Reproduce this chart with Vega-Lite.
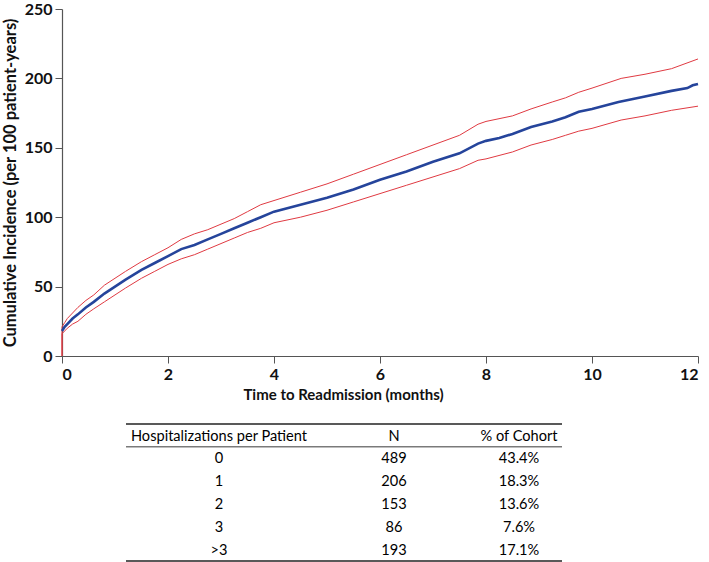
{
  "$schema": "https://vega.github.io/schema/vega-lite/v6.json",
  "padding": {"left": 2, "top": 1, "right": 0, "bottom": 0},
  "background": "white",
  "config": {
    "view": {"stroke": null},
    "font": "Lato",
    "axis": {
      "grid": false,
      "domainColor": "#555",
      "domainWidth": 1.2,
      "tickColor": "#555",
      "tickSize": 7,
      "labelFont": "Lato",
      "labelFontSize": 16,
      "labelFontWeight": "bold",
      "labelColor": "#111",
      "labelPadding": 3,
      "titleFont": "Lato",
      "titleFontSize": 15,
      "titleFontWeight": "bold",
      "titleColor": "#111"
    }
  },
  "datasets": {
    "km": [
      {"t": 0, "v": 0, "s": "upper"}, {"t": 0, "v": 21, "s": "upper"}, {"t": 0.05, "v": 24, "s": "upper"}, {"t": 0.1, "v": 27, "s": "upper"},
      {"t": 0.2, "v": 31, "s": "upper"}, {"t": 0.3, "v": 35, "s": "upper"}, {"t": 0.45, "v": 40, "s": "upper"}, {"t": 0.6, "v": 44, "s": "upper"},
      {"t": 0.8, "v": 51, "s": "upper"}, {"t": 1, "v": 56, "s": "upper"}, {"t": 1.2, "v": 61, "s": "upper"}, {"t": 1.5, "v": 68, "s": "upper"},
      {"t": 1.75, "v": 73, "s": "upper"}, {"t": 2, "v": 78, "s": "upper"}, {"t": 2.25, "v": 84, "s": "upper"}, {"t": 2.5, "v": 88, "s": "upper"},
      {"t": 2.75, "v": 91, "s": "upper"}, {"t": 3, "v": 95, "s": "upper"}, {"t": 3.25, "v": 99, "s": "upper"}, {"t": 3.5, "v": 104, "s": "upper"},
      {"t": 3.75, "v": 109, "s": "upper"}, {"t": 4, "v": 112, "s": "upper"}, {"t": 4.5, "v": 118, "s": "upper"}, {"t": 5, "v": 124, "s": "upper"},
      {"t": 5.5, "v": 131, "s": "upper"}, {"t": 6, "v": 138, "s": "upper"}, {"t": 6.5, "v": 145, "s": "upper"}, {"t": 7, "v": 152, "s": "upper"},
      {"t": 7.5, "v": 159, "s": "upper"}, {"t": 7.85, "v": 167, "s": "upper"}, {"t": 8, "v": 169, "s": "upper"}, {"t": 8.5, "v": 173, "s": "upper"},
      {"t": 8.85, "v": 178, "s": "upper"}, {"t": 9.25, "v": 183, "s": "upper"}, {"t": 9.5, "v": 186, "s": "upper"}, {"t": 9.75, "v": 190, "s": "upper"},
      {"t": 10, "v": 193, "s": "upper"}, {"t": 10.55, "v": 200, "s": "upper"}, {"t": 11, "v": 203, "s": "upper"}, {"t": 11.5, "v": 207, "s": "upper"},
      {"t": 12, "v": 214, "s": "upper"},

      {"t": 0, "v": 18, "s": "estimate"}, {"t": 0.05, "v": 21, "s": "estimate"}, {"t": 0.1, "v": 23, "s": "estimate"}, {"t": 0.2, "v": 27, "s": "estimate"},
      {"t": 0.3, "v": 30, "s": "estimate"}, {"t": 0.45, "v": 35, "s": "estimate"}, {"t": 0.6, "v": 39, "s": "estimate"}, {"t": 0.8, "v": 45, "s": "estimate"},
      {"t": 1, "v": 50, "s": "estimate"}, {"t": 1.2, "v": 55, "s": "estimate"}, {"t": 1.5, "v": 62, "s": "estimate"}, {"t": 1.75, "v": 67, "s": "estimate"},
      {"t": 2, "v": 72, "s": "estimate"}, {"t": 2.25, "v": 77, "s": "estimate"}, {"t": 2.5, "v": 80, "s": "estimate"}, {"t": 2.75, "v": 84, "s": "estimate"},
      {"t": 3, "v": 88, "s": "estimate"}, {"t": 3.25, "v": 92, "s": "estimate"}, {"t": 3.5, "v": 96, "s": "estimate"}, {"t": 3.75, "v": 100, "s": "estimate"},
      {"t": 4, "v": 104, "s": "estimate"}, {"t": 4.5, "v": 109, "s": "estimate"}, {"t": 5, "v": 114, "s": "estimate"}, {"t": 5.5, "v": 120, "s": "estimate"},
      {"t": 6, "v": 127, "s": "estimate"}, {"t": 6.5, "v": 133, "s": "estimate"}, {"t": 7, "v": 140, "s": "estimate"}, {"t": 7.5, "v": 146, "s": "estimate"},
      {"t": 7.85, "v": 153, "s": "estimate"}, {"t": 8, "v": 155, "s": "estimate"}, {"t": 8.25, "v": 157, "s": "estimate"}, {"t": 8.5, "v": 160, "s": "estimate"},
      {"t": 8.85, "v": 165, "s": "estimate"}, {"t": 9.25, "v": 169, "s": "estimate"}, {"t": 9.5, "v": 172, "s": "estimate"}, {"t": 9.75, "v": 176, "s": "estimate"},
      {"t": 10, "v": 178, "s": "estimate"}, {"t": 10.5, "v": 183, "s": "estimate"}, {"t": 11, "v": 187, "s": "estimate"}, {"t": 11.5, "v": 191, "s": "estimate"},
      {"t": 11.8, "v": 193, "s": "estimate"}, {"t": 11.9, "v": 195, "s": "estimate"}, {"t": 12, "v": 196, "s": "estimate"},

      {"t": 0, "v": 0, "s": "lower"}, {"t": 0, "v": 16, "s": "lower"}, {"t": 0.05, "v": 18, "s": "lower"}, {"t": 0.1, "v": 20, "s": "lower"},
      {"t": 0.2, "v": 23, "s": "lower"}, {"t": 0.3, "v": 25, "s": "lower"}, {"t": 0.45, "v": 30, "s": "lower"}, {"t": 0.6, "v": 34, "s": "lower"},
      {"t": 0.8, "v": 39, "s": "lower"}, {"t": 1, "v": 44, "s": "lower"}, {"t": 1.2, "v": 49, "s": "lower"}, {"t": 1.5, "v": 56, "s": "lower"},
      {"t": 1.75, "v": 61, "s": "lower"}, {"t": 2, "v": 66, "s": "lower"}, {"t": 2.25, "v": 70, "s": "lower"}, {"t": 2.5, "v": 73, "s": "lower"},
      {"t": 2.75, "v": 77, "s": "lower"}, {"t": 3, "v": 81, "s": "lower"}, {"t": 3.25, "v": 85, "s": "lower"}, {"t": 3.5, "v": 89, "s": "lower"},
      {"t": 3.75, "v": 92, "s": "lower"}, {"t": 4, "v": 96, "s": "lower"}, {"t": 4.5, "v": 100, "s": "lower"}, {"t": 5, "v": 105, "s": "lower"},
      {"t": 5.5, "v": 111, "s": "lower"}, {"t": 6, "v": 117, "s": "lower"}, {"t": 6.5, "v": 123, "s": "lower"}, {"t": 7, "v": 129, "s": "lower"},
      {"t": 7.5, "v": 135, "s": "lower"}, {"t": 7.85, "v": 141, "s": "lower"}, {"t": 8, "v": 142, "s": "lower"}, {"t": 8.5, "v": 147, "s": "lower"},
      {"t": 8.85, "v": 152, "s": "lower"}, {"t": 9.25, "v": 156, "s": "lower"}, {"t": 9.5, "v": 159, "s": "lower"}, {"t": 9.75, "v": 162, "s": "lower"},
      {"t": 10, "v": 164, "s": "lower"}, {"t": 10.55, "v": 170, "s": "lower"}, {"t": 11, "v": 173, "s": "lower"}, {"t": 11.5, "v": 177, "s": "lower"},
      {"t": 12, "v": 180, "s": "lower"}
    ],
    "table": [
      {"row": "header", "hosp": "Hospitalizations per Patient", "n": "N", "pct": "% of Cohort"},
      {"row": "0", "hosp": "0", "n": "489", "pct": "43.4%"},
      {"row": "1", "hosp": "1", "n": "206", "pct": "18.3%"},
      {"row": "2", "hosp": "2", "n": "153", "pct": "13.6%"},
      {"row": "3", "hosp": "3", "n": "86", "pct": "7.6%"},
      {"row": ">3", "hosp": ">3", "n": "193", "pct": "17.1%"}
    ]
  },
  "vconcat": [
    {
      "width": 636,
      "height": 347,
      "data": {"name": "km"},
      "encoding": {
        "x": {
          "field": "t", "type": "quantitative",
          "scale": {"domain": [0, 12], "nice": false},
          "axis": {"values": [0, 2, 4, 6, 8, 10, 12], "title": "Time to Readmission (months)", "titleX": 281, "titlePadding": 5}
        },
        "y": {
          "field": "v", "type": "quantitative",
          "scale": {"domain": [0, 250], "nice": false},
          "axis": {"values": [0, 50, 100, 150, 200, 250], "title": "Cumulative Incidence (per 100 patient-years)", "titleFontSize": 16.5, "titlePadding": 6}
        }
      },
      "layer": [
        {
          "transform": [{"filter": "datum.s !== 'estimate'"}],
          "mark": {"type": "line", "color": "#e03a42", "strokeWidth": 1},
          "encoding": {"detail": {"field": "s"}}
        },
        {
          "transform": [{"filter": "datum.s === 'estimate'"}],
          "mark": {"type": "line", "color": "#25449b", "strokeWidth": 2.6}
        }
      ]
    },
    {
      "spacing": 0,
      "bounds": "flush",
      "hconcat": [
        {
          "width": 64,
          "height": 137,
          "data": {"values": []},
          "mark": "point",
          "encoding": {}
        },
        {
          "width": 186,
          "height": 137,
          "data": {"name": "table"},
          "encoding": {
            "y": {"field": "row", "type": "nominal", "scale": {"type": "band", "domain": ["header", "0", "1", "2", "3", ">3"], "paddingInner": 0, "paddingOuter": 0}, "axis": null}
          },
          "layer": [
            {"mark": {"type": "text", "fontSize": 14.6, "color": "#000", "align": "center", "baseline": "middle"}, "encoding": {"text": {"field": "hosp"}, "y": {"field": "row", "type": "nominal", "bandPosition": 0.55}}},
            {"transform": [{"filter": "datum.row === 'header'"}], "mark": {"type": "rule", "color": "#222", "strokeWidth": 1.3}, "encoding": {"y": {"field": "row", "type": "nominal", "bandPosition": 0}}},
            {"transform": [{"filter": "datum.row === 'header'"}], "mark": {"type": "rule", "color": "#222", "strokeWidth": 0.9}, "encoding": {"y": {"field": "row", "type": "nominal", "bandPosition": 1}}},
            {"transform": [{"filter": "datum.row === '>3'"}], "mark": {"type": "rule", "color": "#222", "strokeWidth": 1.3}, "encoding": {"y": {"field": "row", "type": "nominal", "bandPosition": 1}}}
          ]
        },
        {
          "width": 164,
          "height": 137,
          "data": {"name": "table"},
          "encoding": {
            "y": {"field": "row", "type": "nominal", "scale": {"type": "band", "domain": ["header", "0", "1", "2", "3", ">3"], "paddingInner": 0, "paddingOuter": 0}, "axis": null}
          },
          "layer": [
            {"mark": {"type": "text", "fontSize": 14.6, "color": "#000", "align": "center", "baseline": "middle"}, "encoding": {"text": {"field": "n"}, "y": {"field": "row", "type": "nominal", "bandPosition": 0.55}}},
            {"transform": [{"filter": "datum.row === 'header'"}], "mark": {"type": "rule", "color": "#222", "strokeWidth": 1.3}, "encoding": {"y": {"field": "row", "type": "nominal", "bandPosition": 0}}},
            {"transform": [{"filter": "datum.row === 'header'"}], "mark": {"type": "rule", "color": "#222", "strokeWidth": 0.9}, "encoding": {"y": {"field": "row", "type": "nominal", "bandPosition": 1}}},
            {"transform": [{"filter": "datum.row === '>3'"}], "mark": {"type": "rule", "color": "#222", "strokeWidth": 1.3}, "encoding": {"y": {"field": "row", "type": "nominal", "bandPosition": 1}}}
          ]
        },
        {
          "width": 86,
          "height": 137,
          "data": {"name": "table"},
          "encoding": {
            "y": {"field": "row", "type": "nominal", "scale": {"type": "band", "domain": ["header", "0", "1", "2", "3", ">3"], "paddingInner": 0, "paddingOuter": 0}, "axis": null}
          },
          "layer": [
            {"mark": {"type": "text", "fontSize": 14.6, "color": "#000", "align": "center", "baseline": "middle"}, "encoding": {"text": {"field": "pct"}, "y": {"field": "row", "type": "nominal", "bandPosition": 0.55}}},
            {"transform": [{"filter": "datum.row === 'header'"}], "mark": {"type": "rule", "color": "#222", "strokeWidth": 1.3}, "encoding": {"y": {"field": "row", "type": "nominal", "bandPosition": 0}}},
            {"transform": [{"filter": "datum.row === 'header'"}], "mark": {"type": "rule", "color": "#222", "strokeWidth": 0.9}, "encoding": {"y": {"field": "row", "type": "nominal", "bandPosition": 1}}},
            {"transform": [{"filter": "datum.row === '>3'"}], "mark": {"type": "rule", "color": "#222", "strokeWidth": 1.3}, "encoding": {"y": {"field": "row", "type": "nominal", "bandPosition": 1}}}
          ]
        }
      ]
    }
  ],
  "spacing": 68,
  "bounds": "flush"
}
